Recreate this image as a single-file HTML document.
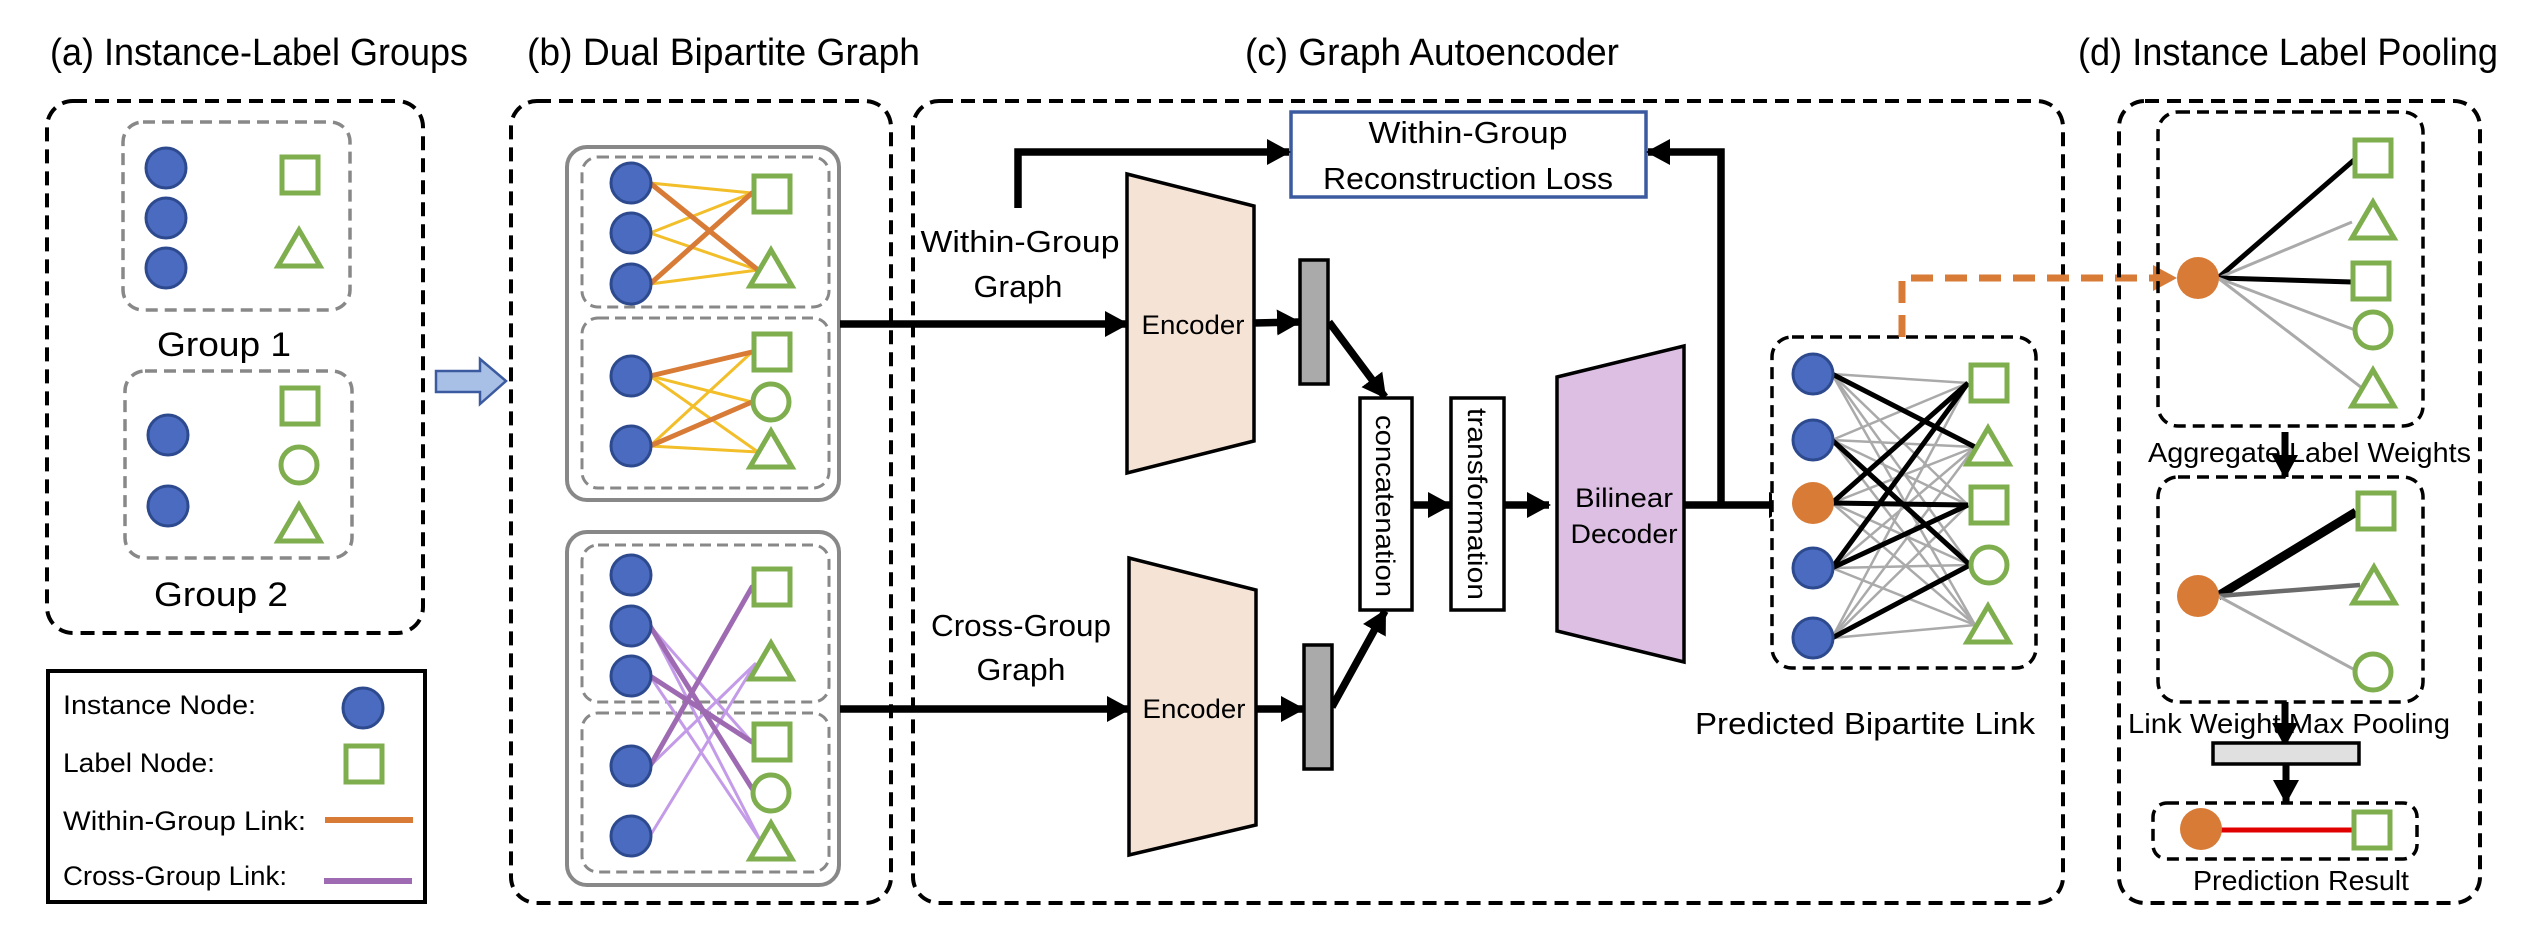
<!DOCTYPE html>
<html><head><meta charset="utf-8"><style>
html,body{margin:0;padding:0;background:#fff;}
svg{display:block;}
text{font-family:"Liberation Sans",sans-serif;fill:#000;}
</style></head><body>
<svg width="2524" height="931" viewBox="0 0 2524 931" xmlns="http://www.w3.org/2000/svg">
<defs>
<marker id="ah" markerUnits="userSpaceOnUse" markerWidth="24" markerHeight="26" refX="22" refY="13" orient="auto"><path d="M0,0 L24,13 L0,26 Z" fill="#000"/></marker>
<marker id="ao" markerUnits="userSpaceOnUse" markerWidth="24" markerHeight="26" refX="22" refY="13" orient="auto"><path d="M0,0 L24,13 L0,26 Z" fill="#D77B36"/></marker>
<g id="bc"><circle r="20" fill="#4A6BBF" stroke="#2E4A8F" stroke-width="3"/></g>
<g id="oc"><circle r="21" fill="#D77B36"/></g>
<g id="sq"><rect x="-18" y="-18" width="36" height="36" fill="#fff" stroke="#7FAE4F" stroke-width="5"/></g>
<g id="tr"><path d="M0,-19 L21,17 L-21,17 Z" fill="#fff" stroke="#7FAE4F" stroke-width="5" stroke-linejoin="miter"/></g>
<g id="gc"><circle r="18" fill="#fff" stroke="#7FAE4F" stroke-width="5"/></g>
</defs>

<!-- Titles -->
<text x="50" y="65" font-size="38" textLength="418" lengthAdjust="spacingAndGlyphs">(a) Instance-Label Groups</text>
<text x="527" y="65" font-size="38" textLength="393" lengthAdjust="spacingAndGlyphs">(b) Dual Bipartite Graph</text>
<text x="1245" y="65" font-size="38" textLength="374" lengthAdjust="spacingAndGlyphs">(c) Graph Autoencoder</text>
<text x="2078" y="65" font-size="38" textLength="420" lengthAdjust="spacingAndGlyphs">(d) Instance Label Pooling</text>

<!-- Panel a -->
<rect x="47" y="101" width="376" height="532" rx="26" fill="none" stroke="#000" stroke-width="4" stroke-dasharray="14,8"/>
<rect x="123" y="122" width="227" height="188" rx="20" fill="none" stroke="#888" stroke-width="3.5" stroke-dasharray="12,7"/>
<use href="#bc" x="166" y="168"/><use href="#bc" x="166" y="218"/><use href="#bc" x="166" y="268"/>
<use href="#sq" x="300" y="175"/><use href="#tr" x="299" y="249"/>
<text x="224" y="356" font-size="34" text-anchor="middle" textLength="134" lengthAdjust="spacingAndGlyphs">Group 1</text>
<rect x="125" y="371" width="227" height="187" rx="20" fill="none" stroke="#888" stroke-width="3.5" stroke-dasharray="12,7"/>
<use href="#bc" x="168" y="435"/><use href="#bc" x="168" y="506"/>
<use href="#sq" x="300" y="406"/><use href="#gc" x="299" y="465"/><use href="#tr" x="299" y="524"/>
<text x="221" y="606" font-size="34" text-anchor="middle" textLength="134" lengthAdjust="spacingAndGlyphs">Group 2</text>

<!-- Legend -->
<rect x="48" y="671" width="377" height="231" fill="none" stroke="#000" stroke-width="4"/>
<text x="63" y="714" font-size="27" textLength="193" lengthAdjust="spacingAndGlyphs">Instance Node:</text>
<use href="#bc" x="363" y="708"/>
<text x="63" y="772" font-size="27" textLength="152" lengthAdjust="spacingAndGlyphs">Label Node:</text>
<use href="#sq" x="364" y="764"/>
<text x="63" y="830" font-size="27" textLength="243" lengthAdjust="spacingAndGlyphs">Within-Group Link:</text>
<line x1="325" y1="820" x2="413" y2="820" stroke="#D77B36" stroke-width="6"/>
<text x="63" y="885" font-size="27" textLength="224" lengthAdjust="spacingAndGlyphs">Cross-Group Link:</text>
<line x1="324" y1="881" x2="412" y2="881" stroke="#9E6BB3" stroke-width="6"/>

<!-- Arrow a->b -->
<path d="M436,371 L480,371 L480,359 L506,381 L480,404 L480,392 L436,392 Z" fill="#A9C0E6" stroke="#3B5AA0" stroke-width="2.5"/>

<!-- Panel b -->
<rect x="511" y="101" width="380" height="802" rx="26" fill="none" stroke="#000" stroke-width="4" stroke-dasharray="14,8"/>
<rect x="567" y="147" width="272" height="353" rx="20" fill="none" stroke="#888" stroke-width="4"/>
<rect x="582" y="157" width="247" height="150" rx="16" fill="none" stroke="#888" stroke-width="3" stroke-dasharray="11,6"/>
<rect x="582" y="318" width="247" height="170" rx="16" fill="none" stroke="#888" stroke-width="3" stroke-dasharray="11,6"/>
<g stroke-linecap="round">
<line x1="650" y1="183" x2="752" y2="193" stroke="#F2BE2A" stroke-width="3"/>
<line x1="650" y1="233" x2="752" y2="193" stroke="#F2BE2A" stroke-width="3"/>
<line x1="650" y1="233" x2="758" y2="270" stroke="#F2BE2A" stroke-width="3"/>
<line x1="650" y1="284" x2="758" y2="270" stroke="#F2BE2A" stroke-width="3"/>
<line x1="650" y1="183" x2="758" y2="270" stroke="#D77B36" stroke-width="5"/>
<line x1="650" y1="284" x2="752" y2="193" stroke="#D77B36" stroke-width="5"/>
<line x1="650" y1="376" x2="752" y2="402" stroke="#F2BE2A" stroke-width="3"/>
<line x1="650" y1="376" x2="758" y2="452" stroke="#F2BE2A" stroke-width="3"/>
<line x1="650" y1="446" x2="752" y2="352" stroke="#F2BE2A" stroke-width="3"/>
<line x1="650" y1="446" x2="758" y2="452" stroke="#F2BE2A" stroke-width="3"/>
<line x1="650" y1="376" x2="752" y2="352" stroke="#D77B36" stroke-width="5"/>
<line x1="650" y1="446" x2="752" y2="402" stroke="#D77B36" stroke-width="5"/>
</g>
<use href="#bc" x="631" y="183"/><use href="#bc" x="631" y="233"/><use href="#bc" x="631" y="284"/>
<use href="#sq" x="772" y="194"/><use href="#tr" x="771" y="269"/>
<use href="#bc" x="631" y="376"/><use href="#bc" x="631" y="446"/>
<use href="#sq" x="772" y="352"/><use href="#gc" x="771" y="402"/><use href="#tr" x="771" y="450"/>

<rect x="567" y="532" width="272" height="353" rx="20" fill="none" stroke="#888" stroke-width="4"/>
<rect x="582" y="545" width="247" height="157" rx="16" fill="none" stroke="#888" stroke-width="3" stroke-dasharray="11,6"/>
<rect x="582" y="713" width="247" height="159" rx="16" fill="none" stroke="#888" stroke-width="3" stroke-dasharray="11,6"/>
<g stroke-linecap="round">
<line x1="650" y1="626" x2="752" y2="742" stroke="#C49BE8" stroke-width="3"/>
<line x1="650" y1="626" x2="760" y2="840" stroke="#C49BE8" stroke-width="3"/>
<line x1="650" y1="676" x2="760" y2="840" stroke="#C49BE8" stroke-width="3"/>
<line x1="650" y1="766" x2="755" y2="664" stroke="#C49BE8" stroke-width="3"/>
<line x1="650" y1="836" x2="755" y2="664" stroke="#C49BE8" stroke-width="3"/>
<line x1="650" y1="626" x2="753" y2="790" stroke="#9E6BB3" stroke-width="5"/>
<line x1="650" y1="676" x2="752" y2="742" stroke="#9E6BB3" stroke-width="5"/>
<line x1="650" y1="766" x2="752" y2="587" stroke="#9E6BB3" stroke-width="5"/>
</g>
<use href="#bc" x="631" y="575"/><use href="#bc" x="631" y="626"/><use href="#bc" x="631" y="676"/>
<use href="#bc" x="631" y="766"/><use href="#bc" x="631" y="836"/>
<use href="#sq" x="772" y="587"/><use href="#tr" x="771" y="662"/>
<use href="#sq" x="772" y="742"/><use href="#gc" x="771" y="793"/><use href="#tr" x="771" y="842"/>

<!-- Panel c -->
<rect x="913" y="101" width="1150" height="802" rx="26" fill="none" stroke="#000" stroke-width="4" stroke-dasharray="14,8"/>
<rect x="1291" y="112" width="355" height="85" fill="#fff" stroke="#3B5AA0" stroke-width="3.5"/>
<text x="1468" y="143" font-size="31" text-anchor="middle" textLength="199" lengthAdjust="spacingAndGlyphs">Within-Group</text>
<text x="1468" y="189" font-size="31" text-anchor="middle" textLength="290" lengthAdjust="spacingAndGlyphs">Reconstruction Loss</text>

<g fill="none" stroke="#000" stroke-width="7.5">
<polyline points="1018,208 1018,152 1289,152" marker-end="url(#ah)"/>
<line x1="840" y1="324" x2="1127" y2="324" marker-end="url(#ah)"/>
<line x1="840" y1="709" x2="1129" y2="709" marker-end="url(#ah)"/>
<line x1="1254" y1="323" x2="1299" y2="322" marker-end="url(#ah)"/>
<line x1="1256" y1="709" x2="1303" y2="709" marker-end="url(#ah)"/>
<line x1="1329" y1="322" x2="1385" y2="397" marker-end="url(#ah)"/>
<line x1="1332" y1="707" x2="1385" y2="611" marker-end="url(#ah)"/>
<line x1="1412" y1="505" x2="1450" y2="505" marker-end="url(#ah)"/>
<line x1="1504" y1="505" x2="1549" y2="505" marker-end="url(#ah)"/>
<line x1="1684" y1="505" x2="1791" y2="505" marker-end="url(#ah)"/>
<polyline points="1721,505 1721,152 1648,152" marker-end="url(#ah)"/>
</g>

<text x="1020" y="252" font-size="31" text-anchor="middle" textLength="199" lengthAdjust="spacingAndGlyphs">Within-Group</text>
<text x="1018" y="297" font-size="31" text-anchor="middle" textLength="89" lengthAdjust="spacingAndGlyphs">Graph</text>
<text x="1021" y="636" font-size="31" text-anchor="middle" textLength="180" lengthAdjust="spacingAndGlyphs">Cross-Group</text>
<text x="1021" y="680" font-size="31" text-anchor="middle" textLength="89" lengthAdjust="spacingAndGlyphs">Graph</text>

<polygon points="1127,174 1254,206 1254,441 1127,473" fill="#F5E3D6" stroke="#000" stroke-width="3.5"/>
<text x="1193" y="334" font-size="27" text-anchor="middle" textLength="103" lengthAdjust="spacingAndGlyphs">Encoder</text>
<polygon points="1129,558 1256,590 1256,825 1129,855" fill="#F5E3D6" stroke="#000" stroke-width="3.5"/>
<text x="1194" y="718" font-size="27" text-anchor="middle" textLength="103" lengthAdjust="spacingAndGlyphs">Encoder</text>

<rect x="1300" y="260" width="28" height="124" fill="#AAAAAA" stroke="#000" stroke-width="3.5"/>
<rect x="1304" y="645" width="28" height="124" fill="#AAAAAA" stroke="#000" stroke-width="3.5"/>

<rect x="1360" y="398" width="52" height="212" fill="#fff" stroke="#000" stroke-width="3.5"/>
<text transform="translate(1376,506) rotate(90)" font-size="27" text-anchor="middle" textLength="182" lengthAdjust="spacingAndGlyphs">concatenation</text>
<rect x="1451" y="398" width="53" height="212" fill="#fff" stroke="#000" stroke-width="3.5"/>
<text transform="translate(1468,504) rotate(90)" font-size="27" text-anchor="middle" textLength="192" lengthAdjust="spacingAndGlyphs">transformation</text>

<polygon points="1557,377 1684,346 1684,662 1557,631" fill="#DCBFE3" stroke="#000" stroke-width="3.5"/>
<text x="1624" y="507" font-size="27" text-anchor="middle" textLength="98" lengthAdjust="spacingAndGlyphs">Bilinear</text>
<text x="1624" y="543" font-size="27" text-anchor="middle" textLength="107" lengthAdjust="spacingAndGlyphs">Decoder</text>

<!-- predicted bipartite -->
<rect x="1772" y="337" width="264" height="331" rx="20" fill="#fff" stroke="#000" stroke-width="3.5" stroke-dasharray="12,7"/>
<g stroke="#AAAAAA" stroke-width="2.5">
<line x1="1832" y1="374" x2="1968" y2="383"/><line x1="1832" y1="374" x2="1975" y2="447"/><line x1="1832" y1="374" x2="1968" y2="505"/><line x1="1832" y1="374" x2="1970" y2="565"/><line x1="1832" y1="374" x2="1975" y2="625"/>
<line x1="1832" y1="440" x2="1968" y2="383"/><line x1="1832" y1="440" x2="1975" y2="447"/><line x1="1832" y1="440" x2="1968" y2="505"/><line x1="1832" y1="440" x2="1975" y2="625"/>
<line x1="1832" y1="503" x2="1975" y2="447"/><line x1="1832" y1="503" x2="1970" y2="565"/><line x1="1832" y1="503" x2="1975" y2="625"/>
<line x1="1832" y1="568" x2="1975" y2="447"/><line x1="1832" y1="568" x2="1970" y2="565"/><line x1="1832" y1="568" x2="1975" y2="625"/>
<line x1="1832" y1="638" x2="1968" y2="383"/><line x1="1832" y1="638" x2="1975" y2="447"/><line x1="1832" y1="638" x2="1968" y2="505"/><line x1="1832" y1="638" x2="1975" y2="625"/>
</g>
<g stroke="#000" stroke-width="5">
<line x1="1832" y1="374" x2="1975" y2="447"/>
<line x1="1832" y1="440" x2="1970" y2="565"/>
<line x1="1832" y1="503" x2="1968" y2="383"/>
<line x1="1832" y1="503" x2="1968" y2="505"/>
<line x1="1832" y1="568" x2="1968" y2="383"/>
<line x1="1832" y1="568" x2="1968" y2="505"/>
<line x1="1832" y1="638" x2="1970" y2="565"/>
</g>
<use href="#bc" x="1813" y="374"/><use href="#bc" x="1813" y="440"/><use href="#oc" x="1813" y="503"/>
<use href="#bc" x="1813" y="568"/><use href="#bc" x="1813" y="638"/>
<use href="#sq" x="1989" y="383"/><use href="#tr" x="1988" y="447"/><use href="#sq" x="1989" y="505"/>
<use href="#gc" x="1989" y="565"/><use href="#tr" x="1988" y="625"/>
<text x="2035" y="734" font-size="31" text-anchor="end" textLength="340" lengthAdjust="spacingAndGlyphs">Predicted Bipartite Link</text>

<polyline points="1902,337 1902,278 2175,278" fill="none" stroke="#D77B36" stroke-width="7" stroke-dasharray="22,12" marker-end="url(#ao)"/>

<!-- Panel d -->
<rect x="2119" y="101" width="361" height="802" rx="26" fill="none" stroke="#000" stroke-width="4" stroke-dasharray="14,8"/>
<rect x="2158" y="112" width="265" height="314" rx="20" fill="none" stroke="#000" stroke-width="3.5" stroke-dasharray="12,7"/>
<line x1="2218" y1="278" x2="2354" y2="160" stroke="#000" stroke-width="5"/>
<line x1="2218" y1="278" x2="2352" y2="222" stroke="#AAAAAA" stroke-width="3"/>
<line x1="2218" y1="278" x2="2352" y2="282" stroke="#000" stroke-width="5"/>
<line x1="2218" y1="278" x2="2355" y2="330" stroke="#AAAAAA" stroke-width="3"/>
<line x1="2218" y1="278" x2="2362" y2="388" stroke="#AAAAAA" stroke-width="3"/>
<use href="#oc" x="2198" y="278"/>
<use href="#sq" x="2373" y="158"/><use href="#tr" x="2373" y="221"/><use href="#sq" x="2371" y="281"/>
<use href="#gc" x="2373" y="330"/><use href="#tr" x="2373" y="389"/>

<text x="2148" y="462" font-size="28" textLength="323" lengthAdjust="spacingAndGlyphs">Aggregate Label Weights</text>
<line x1="2285" y1="432" x2="2285" y2="477" stroke="#000" stroke-width="7" marker-end="url(#ah)"/>

<rect x="2158" y="477" width="265" height="225" rx="20" fill="none" stroke="#000" stroke-width="3.5" stroke-dasharray="12,7"/>
<line x1="2218" y1="596" x2="2356" y2="512" stroke="#000" stroke-width="9"/>
<line x1="2218" y1="596" x2="2360" y2="585" stroke="#6B6B6B" stroke-width="4.5"/>
<line x1="2218" y1="596" x2="2355" y2="670" stroke="#AAAAAA" stroke-width="3"/>
<use href="#oc" x="2198" y="596"/>
<use href="#sq" x="2376" y="511"/><use href="#tr" x="2374" y="586"/><use href="#gc" x="2373" y="672"/>

<line x1="2285" y1="702" x2="2285" y2="745" stroke="#000" stroke-width="7" marker-end="url(#ah)"/>
<text x="2128" y="733" font-size="28" textLength="322" lengthAdjust="spacingAndGlyphs">Link Weight Max Pooling</text>
<rect x="2213" y="743" width="146" height="21" fill="#E0E0E0" stroke="#000" stroke-width="3.5"/>
<line x1="2286" y1="764" x2="2286" y2="802" stroke="#000" stroke-width="7" marker-end="url(#ah)"/>

<rect x="2153" y="803" width="264" height="56" rx="14" fill="none" stroke="#000" stroke-width="3.5" stroke-dasharray="12,7"/>
<line x1="2220" y1="830" x2="2354" y2="830" stroke="#E00000" stroke-width="5"/>
<use href="#oc" x="2201" y="829"/>
<use href="#sq" x="2372" y="830"/>
<text x="2193" y="890" font-size="28" textLength="216" lengthAdjust="spacingAndGlyphs">Prediction Result</text>
</svg>
</body></html>
